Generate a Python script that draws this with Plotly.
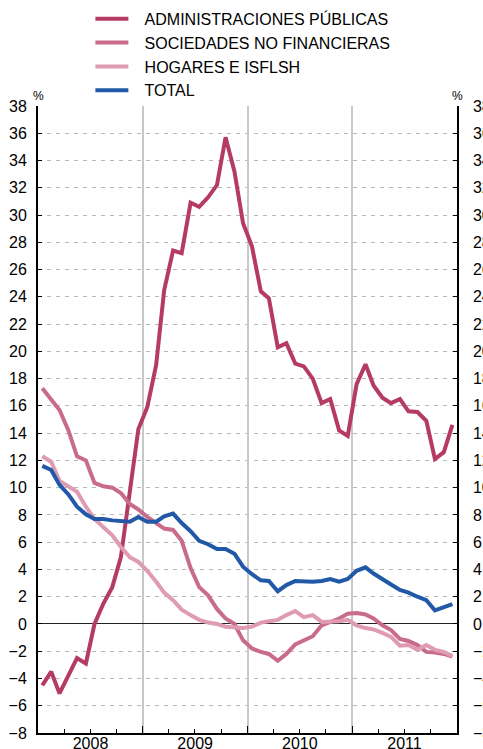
import pandas as pd
import plotly.graph_objects as go

# ---- data (monthly, Jan 2008 – Dec 2011), % ----
months = pd.date_range("2008-01-01", periods=48, freq="MS") + pd.Timedelta(days=15)

adm_publicas = [-4.5, -3.5, -5.1, -3.7, -2.5, -2.9, 0.0, 1.5, 2.7, 4.9,
                9.5, 14.3, 15.9, 19.0, 24.5, 27.4, 27.2, 30.9, 30.6, 31.3,
                32.2, 35.7, 33.2, 29.4, 27.7, 24.4, 23.9, 20.3, 20.6, 19.1,
                18.9, 18.0, 16.2, 16.5, 14.2, 13.8, 17.6, 19.05, 17.5, 16.6,
                16.2, 16.5, 15.6, 15.55, 14.9, 12.1, 12.6, 14.6]

soc_no_fin = [17.3, 16.5, 15.7, 14.2, 12.3, 12.0, 10.35, 10.1, 10.0, 9.6,
              8.8, 8.4, 7.85, 7.4, 7.0, 6.9, 6.1, 4.1, 2.7, 2.1,
              1.1, 0.4, 0.0, -1.2, -1.8, -2.05, -2.2, -2.7, -2.2, -1.5,
              -1.2, -0.9, -0.1, 0.15, 0.4, 0.75, 0.8, 0.7, 0.4, -0.1,
              -0.45, -1.1, -1.25, -1.55, -2.05, -2.1, -2.2, -2.4]

hogares = [12.3, 11.9, 10.5, 10.1, 9.7, 8.6, 7.7, 7.1, 6.5, 5.65,
           4.9, 4.55, 3.9, 3.1, 2.3, 1.75, 1.05, 0.65, 0.3, 0.1,
           0.0, -0.2, -0.25, -0.3, -0.2, 0.1, 0.2, 0.3, 0.65, 0.95,
           0.5, 0.65, 0.15, 0.15, 0.2, 0.3, -0.1, -0.3, -0.4, -0.65,
           -0.95, -1.6, -1.55, -1.9, -1.55, -1.9, -2.05, -2.35]

total = [11.6, 11.3, 10.2, 9.5, 8.6, 8.05, 7.7, 7.7, 7.6, 7.55,
         7.5, 7.85, 7.5, 7.5, 7.9, 8.1, 7.4, 6.8, 6.1, 5.85,
         5.5, 5.5, 5.15, 4.2, 3.65, 3.2, 3.15, 2.4, 2.85, 3.15,
         3.1, 3.1, 3.15, 3.3, 3.1, 3.3, 3.9, 4.15, 3.7, 3.25,
         2.9, 2.5, 2.3, 2.0, 1.75, 1.0, 1.2, 1.45]

series_names = ["ADMINISTRACIONES PÚBLICAS", "SOCIEDADES NO FINANCIERAS",
                "HOGARES E ISFLSH", "TOTAL"]
series_colors = ["#B63B64", "#C96C8C", "#DE9BB2", "#2158A8"]

year_labels = ["2008", "2009", "2010", "2011"]
year_centers = ["2008-07-02", "2009-07-02", "2010-07-02", "2011-07-02"]
year_bounds = ["2009-01-01", "2010-01-01", "2011-01-01"]
quarter_ticks = [f"{y}-{m:02d}-01" for y in range(2008, 2012) for m in (4, 7, 10)]
y_ticks = list(range(-8, 40, 2))

FONT = "Liberation Sans, Arial, Helvetica, sans-serif"

fig = go.Figure()
for name, vals, col in zip(series_names, [adm_publicas, soc_no_fin, hogares, total], series_colors):
    fig.add_trace(go.Scatter(x=months, y=vals, name="\u2002\u2009" + name, mode="lines",
                             line=dict(color=col, width=4)))

# helper trace to activate the secondary (right / year-line) axes
fig.add_trace(go.Scatter(x=[months[0]], y=[None], xaxis="x2", yaxis="y2",
                         mode="lines", showlegend=False, hoverinfo="skip"))

xrange = ["2008-01-01", "2012-01-01"]
fig.update_layout(
    width=483, height=749,
    margin=dict(l=38, r=26, t=106, b=16, autoexpand=False),
    paper_bgcolor="white", plot_bgcolor="white",
    font=dict(family=FONT, size=16, color="black"),
    showlegend=True,
    legend=dict(x=0.125, y=1.166, xanchor="left", yanchor="top",
                font=dict(size=16), itemwidth=33, tracegroupgap=0,
                bgcolor="rgba(0,0,0,0)"),
    xaxis=dict(range=xrange, type="date", showline=True, linecolor="black", linewidth=2,
               tickmode="array", tickvals=year_centers, ticktext=year_labels,
               ticks="", showgrid=False, zeroline=False, automargin=False,
               ticklabelstandoff=-5,
               minor=dict(tickmode="array", tickvals=quarter_ticks, ticks="inside",
                          ticklen=4, tickcolor="black", tickwidth=1, showgrid=False)),
    xaxis2=dict(range=xrange, type="date", overlaying="x", side="bottom",
                tickmode="array", tickvals=year_bounds, ticks="inside", ticklen=7,
                tickcolor="black", tickwidth=1, showticklabels=False,
                showgrid=True, gridcolor="#C8C8C8", gridwidth=1.5, showline=False,
                zeroline=False, automargin=False),
    yaxis=dict(range=[-8, 38], tickmode="array", tickvals=y_ticks,
               ticks="inside", ticklen=4, tickcolor="black", tickwidth=1,
               showline=True, linecolor="black", linewidth=2,
               showgrid=True, gridcolor="#B8B8B8", gridwidth=1, griddash="4px,5px",
               zeroline=True, zerolinecolor="#222222", zerolinewidth=1.2,
               ticklabelstandoff=6, automargin=False),
    yaxis2=dict(range=[-8, 38], overlaying="y", side="right", tickmode="array",
                tickvals=y_ticks, ticks="inside", ticklen=4, tickcolor="black",
                tickwidth=1, showline=True, linecolor="black", linewidth=1.5,
                showgrid=False, zeroline=False, ticklabelstandoff=11, automargin=False),
    annotations=[
        dict(text="%", xref="paper", yref="paper", x=0, y=1, xanchor="center",
             yanchor="bottom", showarrow=False, font=dict(size=12), yshift=1),
        dict(text="%", xref="paper", yref="paper", x=1, y=1, xanchor="center",
             yanchor="bottom", showarrow=False, font=dict(size=12), yshift=1),
    ],
)

fig.write_html("out.html",
               config={"displayModeBar": False},
               post_script="document.body.style.margin='0';document.body.style.padding='0';"
                           "document.body.style.overflow='hidden';")
